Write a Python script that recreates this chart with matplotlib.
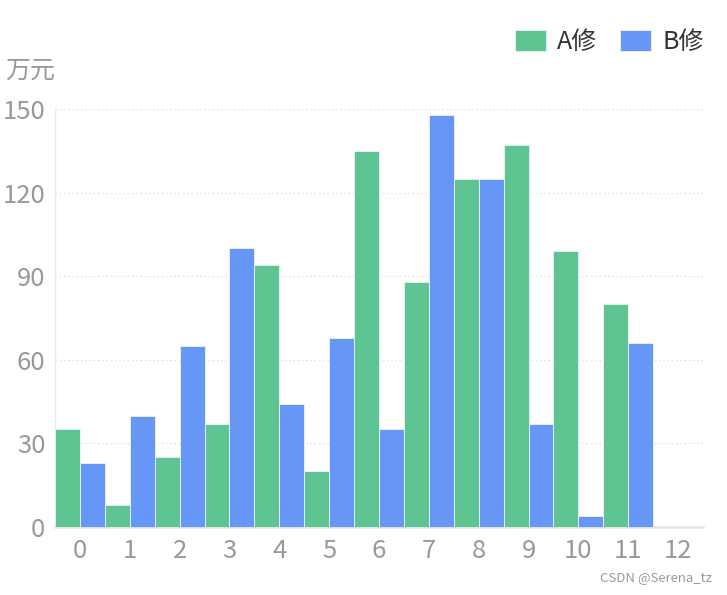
import matplotlib
matplotlib.use("Agg")
import matplotlib.pyplot as plt

plt.rcParams['font.family'] = ['Noto Sans CJK SC', 'DejaVu Sans']

categories = [str(i) for i in range(13)]
series_a = [35, 8, 25, 37, 94, 20, 135, 88, 125, 137, 99, 80, 0]
series_b = [23, 40, 65, 100, 44, 68, 35, 148, 125, 37, 4, 66, 0]
y_ticks = [0, 30, 60, 90, 120, 150]
name_a = "A修"
name_b = "B修"

fig = plt.figure(figsize=(7.27, 5.95), dpi=100)
ax = fig.add_axes([55/727, 1-527/595, (703-55)/727, (527-109)/595])

x = list(range(len(categories)))
ax.bar([i - 0.25 for i in x], series_a, width=0.5, color='#5dc492',
       edgecolor='#eef3fb', linewidth=0.6, label=name_a, zorder=3)
ax.bar([i + 0.25 for i in x], series_b, width=0.5, color='#6696f6',
       edgecolor='#eef3fb', linewidth=0.6, label=name_b, zorder=3)

ax.set_xlim(-0.5, 12.5)
ax.set_ylim(0, 150)
ax.set_xticks(x)
ax.set_xticklabels(categories)
ax.set_yticks(y_ticks)
ax.tick_params(axis='both', length=0, labelsize=18.5, colors='#999999')
ax.tick_params(axis='x', pad=8)
ax.tick_params(axis='y', pad=7)

ax.grid(axis='y', linestyle=(0, (1.2, 2.2)), color='#e0e0e0', linewidth=0.9, zorder=0)
for s in ['top', 'right']:
    ax.spines[s].set_visible(False)
ax.spines['bottom'].set_color('#e0e4ea')
ax.spines['bottom'].set_linewidth(1.8)
ax.spines['left'].set_color('#e8ebf0')
ax.spines['left'].set_linewidth(1)

fig.text(5/727, 1-71/595, "万元", fontsize=18, color='#999999', va='center', ha='left')

leg = fig.legend(loc='upper right', bbox_to_anchor=(714/727, 1-19/595), ncol=2,
                 frameon=False, fontsize=18, handlelength=1.25, handleheight=0.95,
                 columnspacing=0.9, handletextpad=0.45, borderaxespad=0)
for t in leg.get_texts():
    t.set_color('#333333')

fig.text(712/727, 1-578/595, "CSDN @Serena_tz", fontsize=9.5, color='#999999',
         ha='right', va='center')

fig.savefig("out.png", dpi=100)
